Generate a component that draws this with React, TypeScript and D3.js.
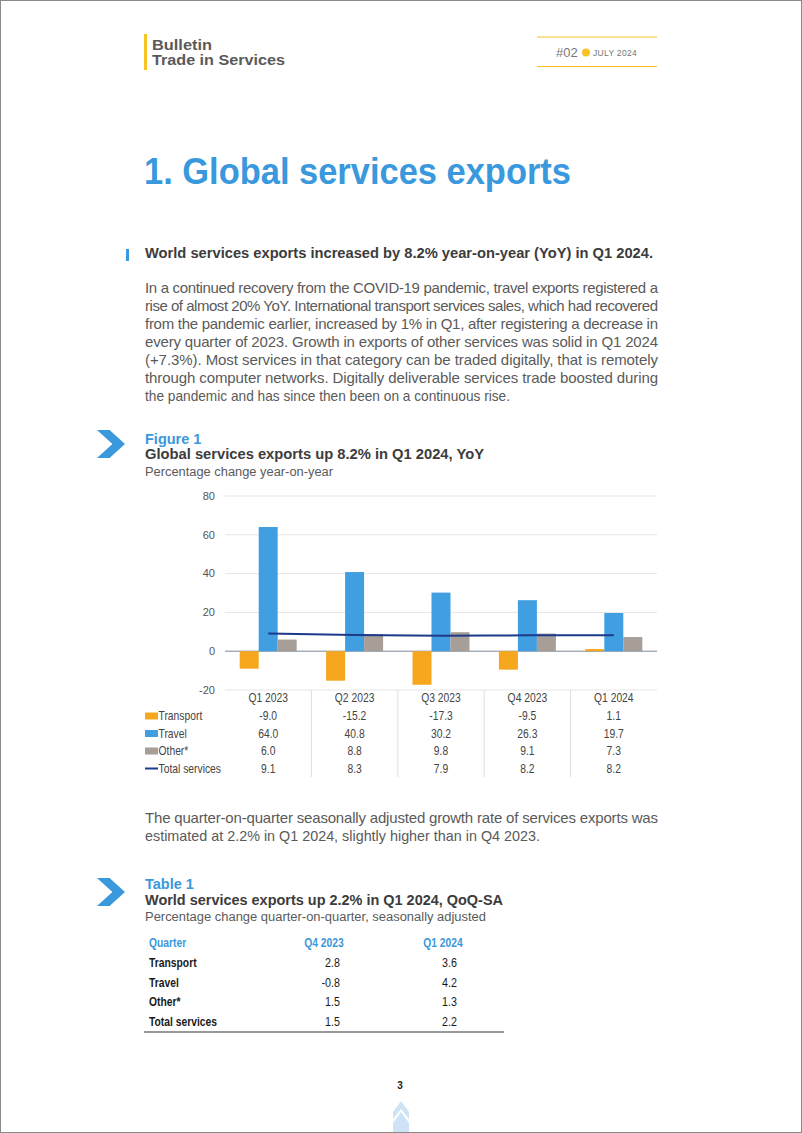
import React from "react";
import * as d3 from "d3";

const quarters = ["Q1 2023", "Q2 2023", "Q3 2023", "Q4 2023", "Q1 2024"];
const transport = [-9.0, -15.2, -17.3, -9.5, 1.1];
const travel = [64.0, 40.8, 30.2, 26.3, 19.7];
const other = [6.0, 8.8, 9.8, 9.1, 7.3];
const total = [9.1, 8.3, 7.9, 8.2, 8.2];
const yTicks = [-20, 0, 20, 40, 60, 80];

const seriesNames = ["Transport", "Travel", "Other*"];
const seriesColors = ["#f6a71e", "#419ee0", "#a89e98"];
const lineColor = "#1d3a8a";

const tableQuarters = ["Q4 2023", "Q1 2024"];
const tableRows = ["Transport", "Travel", "Other*", "Total services"];
const tableQ4 = ["2.8", "-0.8", "1.5", "1.5"];
const tableQ1 = ["3.6", "4.2", "1.3", "2.2"];

const paraLines = [
  "In a continued recovery from the COVID-19 pandemic, travel exports registered a",
  "rise of almost 20% YoY. International transport services sales, which had recovered",
  "from the pandemic earlier, increased by 1% in Q1, after registering a decrease in",
  "every quarter of 2023. Growth in exports of other services was solid in Q1 2024",
  "(+7.3%). Most services in that category can be traded digitally, that is remotely",
  "through computer networks. Digitally deliverable services trade boosted during",
  "the pandemic and has since then been on a continuous rise.",
];
const para2Lines = [
  "The quarter-on-quarter seasonally adjusted growth rate of services exports was",
  "estimated at 2.2% in Q1 2024, slightly higher than in Q4 2023.",
];

const SANS = "'Liberation Sans', Arial, Helvetica, sans-serif";
const TEXT = "#5a5a5a";
const BLUE = "#3a98dc";
const YELLOW = "#f7c325";

function Chevron({ x, y, w, h, color }: { x: number; y: number; w: number; h: number; color: string }) {
  const t = w * 0.45;
  const p = [
    [x, y],
    [x + t, y],
    [x + w, y + h / 2],
    [x + t, y + h],
    [x, y + h],
    [x + w - t, y + h / 2],
  ];
  return <path d={d3.line()(p as [number, number][]) + "Z"} fill={color} />;
}

// condensed text helper (horizontal scaling)
function NText({
  x,
  y,
  children,
  anchor = "start",
  size = 12,
  weight = "normal",
  fill = "#444",
  sx = 0.86,
  dy = "0.35em",
}: {
  x: number;
  y: number;
  children: React.ReactNode;
  anchor?: string;
  size?: number;
  weight?: string;
  fill?: string;
  sx?: number;
  dy?: string;
}) {
  return (
    <text
      transform={`translate(${x},${y}) scale(${sx},1)`}
      dy={dy}
      textAnchor={anchor}
      fontSize={size}
      fontWeight={weight}
      fill={fill}
    >
      {children}
    </text>
  );
}

export default function App() {
  const left = 225;
  const right = 657;
  const x = d3.scaleBand<string>().domain(quarters).range([left, right]).paddingInner(0).paddingOuter(0);
  const inner = d3.scaleBand<string>().domain(seriesNames).range([0, 57]).padding(0);
  const groupOffset = (x.bandwidth() - 57) / 2;
  const y = d3.scaleLinear().domain([-20, 80]).range([690, 496]);
  const seriesData = [transport, travel, other];

  const linePath = d3
    .line<number>()
    .x((_, i) => (x(quarters[i]) as number) + x.bandwidth() / 2)
    .y((d) => y(d))
    .curve(d3.curveMonotoneX)(total);

  const tableRowY = [716, 733.5, 751, 768.5];
  const separators = quarters.slice(1).map((q) => x(q) as number);
  const cx = (q: string) => (x(q) as number) + x.bandwidth() / 2;

  return (
    <svg
      width={802}
      height={1133}
      style={{ position: "absolute", left: 0, top: 0, background: "#fff" }}
      fontFamily={SANS}
    >
      <rect x={0.5} y={0.5} width={801} height={1132} fill="#fff" stroke="#8a8a8a" strokeWidth={1} />

      {/* header */}
      <rect x={144} y={34} width={3} height={36} fill={YELLOW} />
      <text x={152} y={50} fontSize={15} fontWeight="bold" fill="#5a5a5a" textLength={60} lengthAdjust="spacingAndGlyphs">Bulletin</text>
      <text x={152} y={65} fontSize={15} fontWeight="bold" fill="#5a5a5a" textLength={133} lengthAdjust="spacingAndGlyphs">Trade in Services</text>
      <line x1={537} x2={657} y1={37} y2={37} stroke={YELLOW} strokeWidth={1.2} />
      <line x1={537} x2={657} y1={66.5} y2={66.5} stroke={YELLOW} strokeWidth={1.2} />
      <text x={556} y={57} fontSize={13} fill="#777">#02</text>
      <circle cx={586} cy={52.5} r={4} fill={YELLOW} />
      <text x={593} y={56} fontSize={8.5} fill="#777" letterSpacing={0.3}>JULY 2024</text>

      {/* title */}
      <text x={144} y={184} fontSize={36} fontWeight="bold" fill={BLUE} textLength={427} lengthAdjust="spacingAndGlyphs">1. Global services exports</text>

      <rect x={126} y={249} width={3} height={12} fill={BLUE} />
      <text x={145} y={258} fontSize={14.5} fontWeight="bold" fill="#3c3c3c" textLength={508} lengthAdjust="spacingAndGlyphs">
        World services exports increased by 8.2% year-on-year (YoY) in Q1 2024.
      </text>

      {paraLines.map((l, i) => (
        <text
          key={i}
          x={145}
          y={293 + i * 18}
          fontSize={15}
          fill={TEXT}
          textLength={i < paraLines.length - 1 ? 513 : 365}
          lengthAdjust={i < paraLines.length - 1 ? "spacing" : "spacingAndGlyphs"}
        >
          {l}
        </text>
      ))}

      {/* Figure 1 heading */}
      <Chevron x={97} y={430} w={28} h={28} color={BLUE} />
      <text x={145} y={444} fontSize={14.5} fontWeight="bold" fill={BLUE}>Figure 1</text>
      <text x={145} y={459} fontSize={14.5} fontWeight="bold" fill="#3c3c3c" textLength={339} lengthAdjust="spacingAndGlyphs">
        Global services exports up 8.2% in Q1 2024, YoY
      </text>
      <text x={145} y={476} fontSize={12.5} fill={TEXT} textLength={188} lengthAdjust="spacingAndGlyphs">Percentage change year-on-year</text>

      {/* chart gridlines */}
      {yTicks.map((t) => (
        <g key={t}>
          <line x1={left} x2={right} y1={y(t)} y2={y(t)} stroke={t === 0 ? "#7b8796" : "#e6e6e6"} strokeWidth={1} />
          <text x={215} y={y(t)} dy="0.35em" textAnchor="end" fontSize={11} fill="#555">{t}</text>
        </g>
      ))}

      {/* bars */}
      {seriesData.map((arr, si) =>
        arr.map((v, i) => (
          <rect
            key={si + "-" + i}
            x={(x(quarters[i]) as number) + groupOffset + (inner(seriesNames[si]) as number)}
            y={Math.min(y(v), y(0))}
            width={inner.bandwidth()}
            height={Math.abs(y(v) - y(0))}
            fill={seriesColors[si]}
          />
        ))
      )}
      <path d={linePath || ""} fill="none" stroke={lineColor} strokeWidth={2} />

      {/* data table */}
      {separators.map((s, i) => (
        <line key={i} x1={s} x2={s} y1={690} y2={777} stroke="#dedede" strokeWidth={1} />
      ))}
      {quarters.map((q) => (
        <NText key={q} x={cx(q)} y={698} anchor="middle">{q}</NText>
      ))}
      {[...seriesNames, "Total services"].map((name, ri) => (
        <g key={name}>
          {ri < 3 ? (
            <rect x={145} y={tableRowY[ri] - 3.5} width={13} height={7} fill={seriesColors[ri]} />
          ) : (
            <line x1={145} x2={158} y1={tableRowY[ri]} y2={tableRowY[ri]} stroke={lineColor} strokeWidth={2} />
          )}
          <NText x={158.5} y={tableRowY[ri]}>{name}</NText>
          {[transport, travel, other, total][ri].map((v, i) => (
            <NText key={i} x={cx(quarters[i])} y={tableRowY[ri]} anchor="middle">{v.toFixed(1)}</NText>
          ))}
        </g>
      ))}

      {/* paragraph 2 */}
      {para2Lines.map((l, i) => (
        <text
          key={i}
          x={145}
          y={823 + i * 18}
          fontSize={15}
          fill={TEXT}
          textLength={i === 0 ? 513 : 395}
          lengthAdjust={i === 0 ? "spacing" : "spacingAndGlyphs"}
        >
          {l}
        </text>
      ))}

      {/* Table 1 */}
      <Chevron x={97} y={878} w={28} h={28} color={BLUE} />
      <text x={145} y={889} fontSize={14.5} fontWeight="bold" fill={BLUE}>Table 1</text>
      <text x={145} y={905} fontSize={14.5} fontWeight="bold" fill="#3c3c3c" textLength={358} lengthAdjust="spacingAndGlyphs">
        World services exports up 2.2% in Q1 2024, QoQ-SA
      </text>
      <text x={145} y={921} fontSize={12.5} fill={TEXT} textLength={341} lengthAdjust="spacingAndGlyphs">
        Percentage change quarter-on-quarter, seasonally adjusted
      </text>

      <NText x={149} y={947} dy="0" weight="bold" fill={BLUE}>Quarter</NText>
      <NText x={324} y={947} dy="0" weight="bold" fill={BLUE} anchor="middle">{tableQuarters[0]}</NText>
      <NText x={443} y={947} dy="0" weight="bold" fill={BLUE} anchor="middle">{tableQuarters[1]}</NText>
      {tableRows.map((r, i) => (
        <g key={r}>
          <NText x={149} y={967 + i * 19.7} dy="0" weight="bold" fill="#1a1a1a">{r}</NText>
          <NText x={340} y={967 + i * 19.7} dy="0" size={12.5} fill="#1a1a1a" anchor="end">{tableQ4[i]}</NText>
          <NText x={457} y={967 + i * 19.7} dy="0" size={12.5} fill="#1a1a1a" anchor="end">{tableQ1[i]}</NText>
        </g>
      ))}
      <line x1={144} x2={504} y1={1032} y2={1032} stroke="#333" strokeWidth={1.2} />

      {/* footer */}
      <text x={400} y={1089} fontSize={10} fontWeight="bold" fill="#222" textAnchor="middle">3</text>
      <path d="M401,1101 L409,1112 L409,1119 L401,1109 L393,1119 L393,1112 Z" fill="#cfe3f6" />
      <path d="M401,1112 L409,1123 L409,1132 L393,1132 L393,1123 Z" fill="#cfe3f6" />
    </svg>
  );
}
